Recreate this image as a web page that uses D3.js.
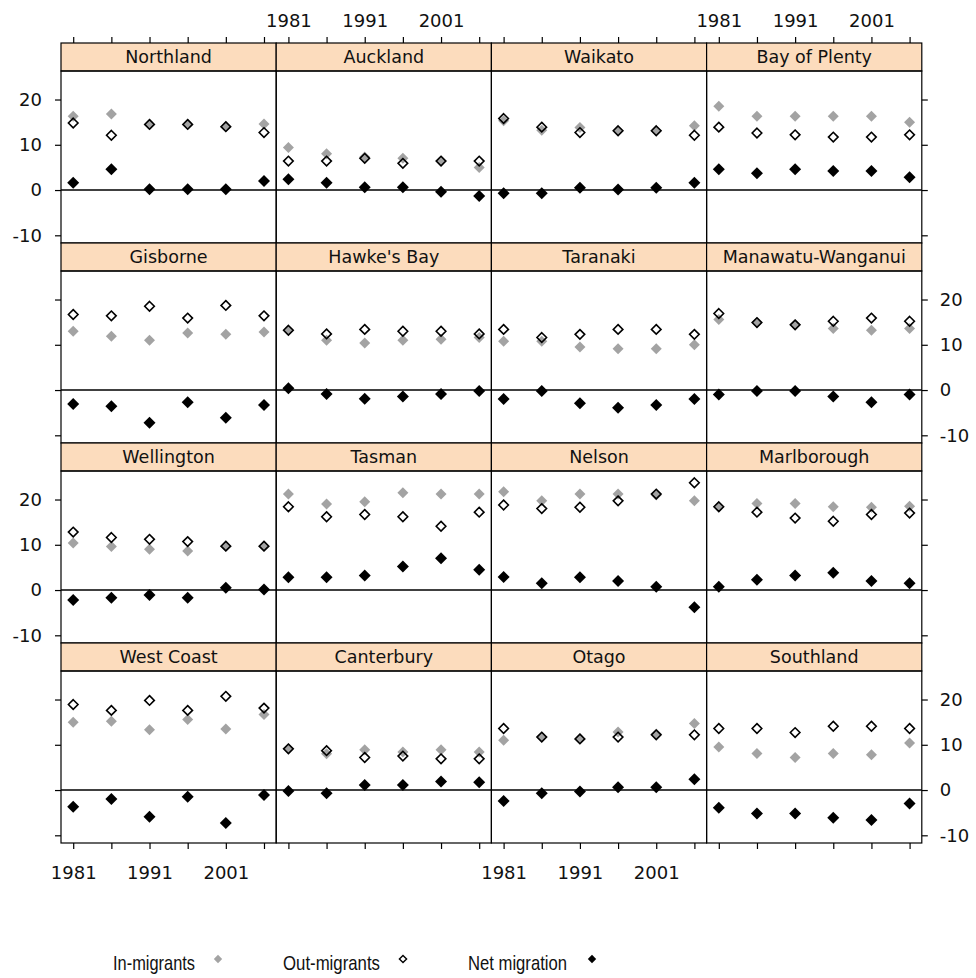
<!DOCTYPE html>
<html>
<head>
<meta charset="utf-8">
<script src="https://cdn.jsdelivr.net/npm/d3@7"></script>
<style>
  body { margin: 0; background: #fff; }
  svg text { font-family: "DejaVu Sans", sans-serif; fill: #111; }
</style>
</head>
<body>
<div id="chart"></div>
<script>
const years = [1981, 1986, 1991, 1996, 2001, 2006];
const yearLabels = [1981, 1991, 2001];
const yTicks = [-10, 0, 10, 20];
const regions = ['Northland', 'Auckland', 'Waikato', 'Bay of Plenty',
  'Gisborne', "Hawke's Bay", 'Taranaki', 'Manawatu-Wanganui',
  'Wellington', 'Tasman', 'Nelson', 'Marlborough',
  'West Coast', 'Canterbury', 'Otago', 'Southland'];
const seriesNames = ['In-migrants', 'Out-migrants', 'Net migration'];

const inMigrants = [
  [16.3, 16.8, 14.5, 14.5, 14.0, 14.6],
  [9.4, 8.0, 7.3, 7.0, 6.4, 5.0],
  [15.3, 13.2, 13.8, 13.1, 13.1, 14.2],
  [18.5, 16.3, 16.3, 16.3, 16.3, 15.0],
  [13.0, 11.9, 11.0, 12.6, 12.3, 12.8],
  [13.2, 11.0, 10.4, 11.0, 11.2, 11.6],
  [10.8, 10.8, 9.5, 9.1, 9.1, 10.0],
  [15.6, 14.9, 14.4, 13.6, 13.2, 13.6],
  [10.4, 9.6, 9.0, 8.6, 9.7, 9.7],
  [21.2, 19.0, 19.5, 21.5, 21.2, 21.2],
  [21.7, 19.7, 21.2, 21.2, 21.0, 19.7],
  [18.4, 19.1, 19.1, 18.4, 18.3, 18.5],
  [15.0, 15.2, 13.3, 15.6, 13.5, 16.7],
  [9.1, 8.0, 8.9, 8.4, 8.9, 8.4],
  [11.0, 11.7, 11.3, 12.8, 12.4, 14.7],
  [9.5, 8.1, 7.2, 8.1, 7.8, 10.4]
];
const outMigrants = [
  [14.8, 12.1, 14.5, 14.5, 14.0, 12.7],
  [6.4, 6.4, 7.0, 5.9, 6.4, 6.4],
  [15.8, 13.9, 12.7, 13.1, 13.1, 12.1],
  [13.9, 12.6, 12.2, 11.7, 11.7, 12.2],
  [16.7, 16.4, 18.5, 15.9, 18.7, 16.4],
  [13.2, 12.4, 13.4, 13.0, 13.0, 12.4],
  [13.4, 11.6, 12.3, 13.4, 13.4, 12.3],
  [16.9, 14.9, 14.4, 15.2, 15.9, 15.2],
  [12.8, 11.6, 11.2, 10.7, 9.7, 9.7],
  [18.4, 16.2, 16.7, 16.2, 14.1, 17.2],
  [18.8, 18.0, 18.3, 19.7, 21.2, 23.7],
  [18.4, 17.2, 15.9, 15.2, 16.7, 17.0],
  [18.9, 17.6, 19.8, 17.6, 20.7, 18.1],
  [9.1, 8.7, 7.2, 7.5, 6.9, 6.9],
  [13.6, 11.7, 11.3, 11.7, 12.2, 12.2],
  [13.6, 13.6, 12.7, 14.1, 14.1, 13.6]
];
const netMigration = [
  [1.6, 4.6, 0.2, 0.2, 0.2, 2.0],
  [2.4, 1.6, 0.6, 0.6, -0.4, -1.3],
  [-0.7, -0.7, 0.5, 0.1, 0.5, 1.6],
  [4.6, 3.7, 4.6, 4.2, 4.2, 2.8],
  [-3.1, -3.6, -7.2, -2.7, -6.1, -3.3],
  [0.4, -0.9, -1.9, -1.4, -0.9, -0.2],
  [-2.0, -0.2, -2.9, -3.9, -3.3, -2.0],
  [-1.0, -0.2, -0.2, -1.4, -2.7, -1.0],
  [-2.2, -1.7, -1.1, -1.7, 0.5, 0.1],
  [2.8, 2.8, 3.2, 5.2, 7.0, 4.5],
  [2.9, 1.5, 2.8, 2.0, 0.7, -3.8],
  [0.7, 2.3, 3.2, 3.8, 2.0, 1.5],
  [-3.7, -2.0, -5.9, -1.5, -7.3, -1.1],
  [-0.2, -0.7, 1.1, 1.1, 1.9, 1.7],
  [-2.4, -0.7, -0.3, 0.6, 0.6, 2.4],
  [-3.9, -5.2, -5.2, -6.1, -6.6, -3.0]
];

// layout
const marginLeft = 61, marginTop = 43, pw = 215.2, ph = 200, stripH = 28, tick = 6;
const inColor = '#a3a3a3', stripColor = '#fcdcbd';

const svg = d3.select('#chart')
  .append('svg')
  .attr('width', 976)
  .attr('height', 978);

const x = d3.scaleLinear().domain([1979.4, 2007.6]).range([0, pw]);
const y = d3.scaleLinear().domain([-11.7, 26.3]).range([ph, stripH]);

const diamond = r => `M0,${-r}L${r},0L0,${r}L${-r},0Z`;

regions.forEach(function (name, i) {
  const col = i % 4, row = Math.floor(i / 4);
  const g = svg.append('g')
    .attr('transform', `translate(${marginLeft + col * pw},${marginTop + row * ph})`);

  // strip
  g.append('rect')
    .attr('width', pw).attr('height', stripH)
    .attr('fill', stripColor).attr('stroke', '#000').attr('stroke-width', 1.2);
  g.append('text')
    .attr('x', pw / 2).attr('y', stripH / 2)
    .attr('text-anchor', 'middle')
    .attr('dy', '0.36em')
    .style('font-size', '17.5px')
    .text(name);

  // zero line
  g.append('line')
    .attr('x1', 0).attr('x2', pw)
    .attr('y1', y(0)).attr('y2', y(0))
    .attr('stroke', '#000').attr('stroke-width', 1.5);

  const pts = years.map((yr, j) => ({ yr, inv: inMigrants[i][j], out: outMigrants[i][j], net: netMigration[i][j] }));

  g.selectAll('.in').data(pts).enter().append('path')
    .attr('transform', d => `translate(${x(d.yr)},${y(d.inv)})`)
    .attr('d', diamond(5.5)).attr('fill', inColor);
  g.selectAll('.out').data(pts).enter().append('path')
    .attr('transform', d => `translate(${x(d.yr)},${y(d.out)})`)
    .attr('d', diamond(4.8)).attr('fill', 'none')
    .attr('stroke', '#000').attr('stroke-width', 1.6);
  g.selectAll('.net').data(pts).enter().append('path')
    .attr('transform', d => `translate(${x(d.yr)},${y(d.net)})`)
    .attr('d', diamond(6)).attr('fill', '#000');

  // panel border
  g.append('rect')
    .attr('y', stripH).attr('width', pw).attr('height', ph - stripH)
    .attr('fill', 'none').attr('stroke', '#000').attr('stroke-width', 1.2);

  const fmtX = show => d => (show && yearLabels.includes(d)) ? d : '';
  const fmtY = show => d => show ? d : '';

  if (row === 0) {
    g.append('g').call(d3.axisTop(x).tickValues(years).tickSize(tick).tickPadding(10).tickFormat(fmtX(col % 2 === 1)));
  }
  if (row === 3) {
    g.append('g').attr('transform', `translate(0,${ph})`)
      .call(d3.axisBottom(x).tickValues(years).tickSize(tick).tickPadding(17).tickFormat(fmtX(col % 2 === 0)));
  }
  if (col === 0) {
    g.append('g').call(d3.axisLeft(y).tickValues(yTicks).tickSize(tick).tickPadding(13).tickFormat(fmtY(row % 2 === 0)));
  }
  if (col === 3) {
    g.append('g').attr('transform', `translate(${pw},0)`)
      .call(d3.axisRight(y).tickValues(yTicks).tickSize(tick).tickPadding(12).tickFormat(fmtY(row % 2 === 1)));
  }
});

svg.selectAll('.domain').remove();
svg.selectAll('.tick text').style('font-size', '18px').attr('fill', '#111')
  .style('font-family', '"DejaVu Sans", sans-serif');
svg.selectAll('.tick line').attr('stroke', '#000').attr('stroke-width', 1.2);

// legend
const legendX = [113, 283, 468];
const legendW = [82, 97, 99];
const legendKeyX = [218, 403, 592];
const legend = svg.append('g').attr('transform', 'translate(0,962)');
seriesNames.forEach(function (s, k) {
  legend.append('text')
    .attr('x', legendX[k]).attr('dy', '0.36em')
    .attr('textLength', legendW[k])
    .attr('lengthAdjust', 'spacingAndGlyphs')
    .style('font-family', '"Liberation Sans", Arial, sans-serif')
    .style('font-size', '21px')
    .text(s);
  const key = legend.append('path')
    .attr('transform', `translate(${legendKeyX[k]},-3)`)
    .attr('d', diamond(k === 1 ? 3.6 : 4.2));
  if (k === 0) key.attr('fill', inColor);
  else if (k === 1) key.attr('fill', 'none').attr('stroke', '#000').attr('stroke-width', 1.4);
  else key.attr('fill', '#000');
});
</script>
</body>
</html>
